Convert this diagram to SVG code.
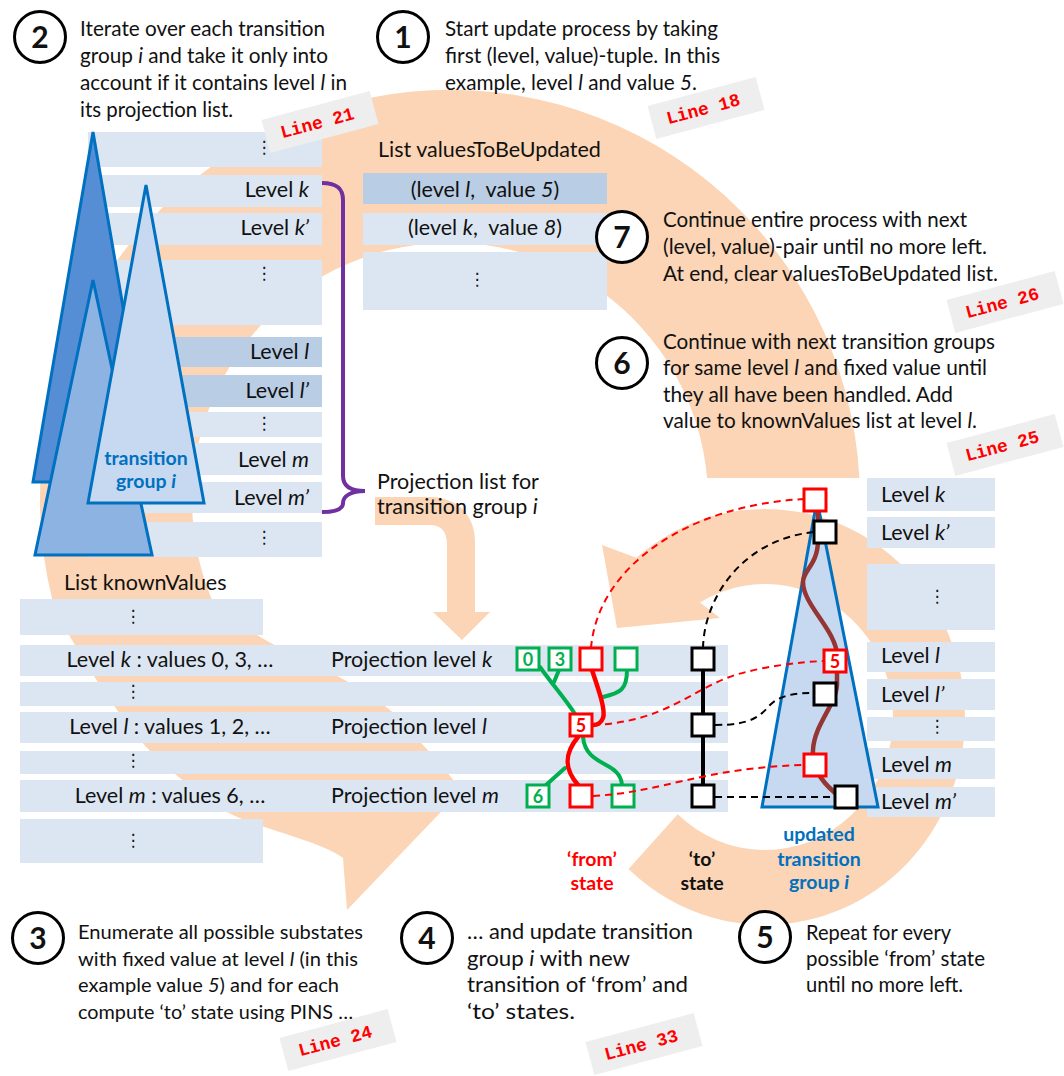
<svg xmlns="http://www.w3.org/2000/svg" width="1064" height="1076" viewBox="0 0 1064 1076">
<style>
  text { font-family: Lato, 'Liberation Sans', sans-serif; fill: #111; }
  .t { font-size: 21.5px; }
  .p { font-size: 20.5px; }
  .q { font-size: 19.5px; }
  .r { text-anchor: end; }
  .c { text-anchor: middle; }
  .i { font-style: italic; }
  .row { fill: #dce6f2; }
  .rowd { fill: #b9cde5; }
  .peach { fill: #fbd5b5; }
  .num circle { fill: #fff; stroke: #000; stroke-width: 3; }
  .num text { font-size: 30px; font-weight: bold; text-anchor: middle; }
  .tag rect { fill: #eeeeee; }
  .tag text { font-family: 'Liberation Mono', monospace; font-weight: bold; font-size: 18px; fill: #ff0000; text-anchor: middle; }
  .dots { font-family: 'DejaVu Sans', sans-serif; font-size: 17px; text-anchor: middle; }
  .blue { fill: #0070c0; font-weight: bold; font-size: 19.5px; text-anchor: middle; }
  .redb { fill: #ff0000; font-weight: bold; font-size: 19.5px; text-anchor: middle; }
  .blkb { font-weight: bold; font-size: 19.5px; text-anchor: middle; }
  .tri { stroke: #0070c0; stroke-width: 3; }
  .bx { fill: #fff; stroke-width: 3; }
  .g { stroke: #00b050; }
  .rd { stroke: #ff0000; }
  .bk { stroke: #000; }
  .bxt { font-weight: bold; font-size: 18px; text-anchor: middle; }
  .gl { fill: none; stroke: #00b050; stroke-width: 4; stroke-linecap: round; }
  .rl { fill: none; stroke: #ff0000; stroke-width: 4.5; stroke-linecap: round; }
  .dr { fill: none; stroke: #ff0000; stroke-width: 2; stroke-dasharray: 7 5; }
  .db { fill: none; stroke: #000; stroke-width: 2; stroke-dasharray: 7 5; }
</style>

<!-- flow arrows in the background -->
<g id="flow-arrows">
  <path class="peach" d="M859.4,478 A410,410 0 1 0 52.4,600 C56.7,613.3 64,625.8 72,640 C80,654.2 88.7,668.3 100,685 C111.3,701.7 126.7,724.5 140,740 C153.3,755.5 164.5,765.5 180,778 C195.5,790.5 205.8,801.7 233,815 C260.2,828.3 324,842.2 343,858 L347,910 L462,790 C454.2,780.8 435.8,759 423,745 C410.2,731 400.5,718.2 385,706 C369.5,693.8 350.5,683.3 330,672 C309.5,660.7 281.7,650 262,638 C242.3,626 222.5,613 212,600 A258,258 0 1 1 707.1,478 Z"/>
  <path class="peach" d="M628.6,869.1 A200,208 0 1 0 636.4,557.7 L602,545 L617,628 L720,618 L700,602.4 A128,133 0 1 1 677.7,814.3 Z"/>
  <path class="peach" d="M375,497 H430 C457,497 475,515 475,542 V612 H490 L462,640 L433,612 H447 V545 C447,531 441,525 430,525 H375 Z"/>
</g>

<!-- projection list of transition group i -->
<g id="projection-list">
  <rect class="row" x="88" y="132" width="234" height="35"/>
  <rect class="row" x="88" y="175" width="234" height="32"/>
  <rect class="row" x="88" y="213" width="234" height="32"/>
  <rect class="row" x="88" y="260" width="234" height="65"/>
  <rect class="rowd" x="88" y="337" width="234" height="30"/>
  <rect class="rowd" x="88" y="375" width="234" height="32"/>
  <rect class="row" x="88" y="412" width="234" height="25"/>
  <rect class="row" x="88" y="443" width="234" height="32"/>
  <rect class="row" x="88" y="482" width="234" height="31"/>
  <rect class="row" x="88" y="522" width="234" height="35"/>
  <text class="dots" x="264" y="153">⋮</text>
  <text class="t r" x="309" y="197">Level <tspan class="i">k</tspan></text>
  <text class="t r" x="309" y="235">Level <tspan class="i">k’</tspan></text>
  <text class="dots" x="264" y="279">⋮</text>
  <text class="t r" x="309" y="359">Level <tspan class="i">l</tspan></text>
  <text class="t r" x="309" y="398">Level <tspan class="i">l’</tspan></text>
  <text class="dots" x="264" y="429">⋮</text>
  <text class="t r" x="309" y="467">Level <tspan class="i">m</tspan></text>
  <text class="t r" x="309" y="505">Level <tspan class="i">m’</tspan></text>
  <text class="dots" x="264" y="543">⋮</text>
</g>

<!-- stacked transition groups -->
<g id="transition-groups">
  <polygon class="tri" fill="#558ed5" points="93,132 33,482 153,482"/>
  <polygon class="tri" fill="#8db3e2" points="93,280 35,555 152,555"/>
  <polygon class="tri" fill="#c6d9f1" points="146,185 88,503 204,503"/>
  <text class="blue" x="146" y="465">transition</text>
  <text class="blue" x="146" y="488">group <tspan class="i">i</tspan></text>
</g>

<g id="projection-brace">
  <path d="M322,183 C336,183 343,188 343,200 L343,476 C343,486 351,491 365,491 C351,491 343,496 343,503 C343,509 336,512 322,512" fill="none" stroke="#7030a0" stroke-width="4"/>
  <text class="t" x="377" y="489">Projection list for</text>
  <text class="t" x="377" y="514">transition group <tspan class="i">i</tspan></text>
</g>

<!-- list valuesToBeUpdated -->
<g id="values-to-be-updated">
  <text class="t" x="378" y="157">List valuesToBeUpdated</text>
  <rect class="rowd" x="363" y="173" width="244" height="31"/>
  <rect class="row" x="363" y="213" width="244" height="32"/>
  <rect class="row" x="363" y="252" width="244" height="58"/>
  <text class="t c" x="485" y="197">(level <tspan class="i">l</tspan>,&#160; value <tspan class="i">5</tspan>)</text>
  <text class="t c" x="485" y="235">(level <tspan class="i">k</tspan>,&#160; value <tspan class="i">8</tspan>)</text>
  <text class="dots" x="477" y="285">⋮</text>
</g>

<!-- list knownValues with projection levels -->
<g id="known-values">
  <text class="t" x="64" y="590">List knownValues</text>
  <rect class="row" x="20" y="599" width="243" height="36"/>
  <rect class="row" x="20" y="645" width="708" height="31"/>
  <rect class="row" x="20" y="682" width="708" height="24"/>
  <rect class="row" x="20" y="712" width="708" height="31"/>
  <rect class="row" x="20" y="751" width="708" height="23"/>
  <rect class="row" x="20" y="780" width="708" height="32"/>
  <rect class="row" x="20" y="819" width="243" height="44"/>
  <text class="dots" x="133" y="622">⋮</text>
  <text class="t c" x="170" y="667">Level <tspan class="i">k</tspan> : values 0, 3, …</text>
  <text class="dots" x="133" y="697">⋮</text>
  <text class="t c" x="170" y="734">Level <tspan class="i">l</tspan> : values 1, 2, …</text>
  <text class="dots" x="133" y="766">⋮</text>
  <text class="t c" x="170" y="803">Level <tspan class="i">m</tspan> : values 6, …</text>
  <text class="dots" x="133" y="846">⋮</text>
  <text class="t" x="331" y="667">Projection level <tspan class="i">k</tspan></text>
  <text class="t" x="331" y="734">Projection level <tspan class="i">l</tspan></text>
  <text class="t" x="331" y="803">Projection level <tspan class="i">m</tspan></text>
</g>

<!-- levels of the updated transition group -->
<g id="updated-levels">
  <rect class="row" x="867" y="478" width="128" height="33"/>
  <rect class="row" x="867" y="517" width="128" height="31"/>
  <rect class="row" x="867" y="564" width="128" height="66"/>
  <rect class="row" x="867" y="642" width="128" height="30"/>
  <rect class="row" x="867" y="679" width="128" height="31"/>
  <rect class="row" x="867" y="717" width="128" height="24"/>
  <rect class="row" x="867" y="748" width="128" height="31"/>
  <rect class="row" x="867" y="787" width="128" height="30"/>
  <text class="t" x="881" y="502">Level <tspan class="i">k</tspan></text>
  <text class="t" x="881" y="540">Level <tspan class="i">k’</tspan></text>
  <text class="dots" x="937" y="602">⋮</text>
  <text class="t" x="881" y="663">Level <tspan class="i">l</tspan></text>
  <text class="t" x="881" y="702">Level <tspan class="i">l’</tspan></text>
  <text class="dots" x="937" y="732">⋮</text>
  <text class="t" x="881" y="772">Level <tspan class="i">m</tspan></text>
  <text class="t" x="881" y="809">Level <tspan class="i">m’</tspan></text>
</g>

<g id="updated-group">
  <polygon class="tri" fill="#c6d9f1" points="817,500 762,807 878,807"/>
  <text class="blue" x="819" y="841">updated</text>
  <text class="blue" x="819" y="866">transition</text>
  <text class="blue" x="819" y="889">group <tspan class="i">i</tspan></text>
</g>

<!-- connectors -->
<g id="connectors">
  <path class="gl" d="M540,667 C552,684 566,700 575,714"/>
  <path class="gl" d="M559,670 L554,682"/>
  <path class="gl" d="M627,670 C627,690 620,693 603,697"/>
  <path class="gl" d="M583,737 C586,768 620,760 622,785"/>
  <path class="gl" d="M565,768 L546,785"/>
  <path class="rl" d="M592,670 C598,688 606,710 603,718 C601,723 597,725 593,725"/>
  <path class="rl" d="M578,737 C563,755 565,770 578,785"/>
  <path d="M703,670 V785" stroke="#000" stroke-width="4"/>
  <path d="M818,512 V540 C818,565 803,570 803,582 C803,605 836,630 837,655 L837,685 C836,705 814,725 813,750 C812,772 826,786 840,797" fill="none" stroke="#943634" stroke-width="4.5"/>
</g>

<g id="states">
  <rect class="bx g" x="517" y="648" width="22" height="22"/>
  <text class="bxt" style="fill:#00b050" x="528" y="666">0</text>
  <rect class="bx g" x="549" y="648" width="22" height="22"/>
  <text class="bxt" style="fill:#00b050" x="560" y="666">3</text>
  <rect class="bx rd" x="580" y="648" width="22" height="22"/>
  <rect class="bx g" x="615" y="648" width="22" height="22"/>
  <rect class="bx bk" x="692" y="648" width="22" height="22"/>
  <rect class="bx rd" x="570" y="714" width="22" height="22"/>
  <text class="bxt" style="fill:#ff0000" x="581" y="732">5</text>
  <rect class="bx bk" x="692" y="714" width="22" height="22"/>
  <rect class="bx g" x="527" y="785" width="22" height="22"/>
  <text class="bxt" style="fill:#00b050" x="538" y="803">6</text>
  <rect class="bx rd" x="570" y="785" width="22" height="22"/>
  <rect class="bx g" x="612" y="785" width="22" height="22"/>
  <rect class="bx bk" x="692" y="785" width="22" height="22"/>
</g>

<g id="transition-links">
  <path class="dr" d="M591,648 C598,565 690,505 804,499"/>
  <path class="db" d="M703,648 C704,600 740,540 814,532"/>
  <path class="dr" d="M593,725 C665,722 690,690 735,675 C765,666 800,662 824,661"/>
  <path class="db" d="M715,725 C752,725 760,716 770,705 C780,695 795,693 814,693"/>
  <path class="dr" d="M593,796 C665,792 700,768 804,765"/>
  <path class="db" d="M715,797 H835"/>
</g>

<g id="updated-states">
  <rect class="bx rd" x="804" y="489" width="22" height="22"/>
  <rect class="bx bk" x="814" y="521" width="22" height="22"/>
  <rect class="bx rd" x="824" y="650" width="22" height="22"/>
  <text class="bxt" style="fill:#ff0000" x="835" y="668">5</text>
  <rect class="bx bk" x="814" y="683" width="22" height="22"/>
  <rect class="bx rd" x="804" y="754" width="22" height="22"/>
  <rect class="bx bk" x="835" y="786" width="22" height="22"/>
</g>

<g id="state-labels">
  <text class="redb" x="592" y="866">‘from’</text>
  <text class="redb" x="592" y="890">state</text>
  <text class="blkb" x="702" y="866">‘to’</text>
  <text class="blkb" x="702" y="890">state</text>
</g>

<!-- source line tags -->
<g id="line-tags" class="tag">
  <g transform="translate(320,122) rotate(-15)"><rect x="-56" y="-17" width="112" height="34"/><text x="-3" y="6">Line 21</text></g>
  <g transform="translate(706,108) rotate(-15)"><rect x="-56" y="-17" width="112" height="34"/><text x="-3" y="6">Line 18</text></g>
  <g transform="translate(1005,302) rotate(-15)"><rect x="-56" y="-17" width="112" height="34"/><text x="-3" y="6">Line 26</text></g>
  <g transform="translate(1005,445) rotate(-15)"><rect x="-56" y="-17" width="112" height="34"/><text x="-3" y="6">Line 25</text></g>
  <g transform="translate(338,1040) rotate(-15)"><rect x="-56" y="-17" width="112" height="34"/><text x="-3" y="6">Line 24</text></g>
  <g transform="translate(644,1044) rotate(-15)"><rect x="-56" y="-17" width="112" height="34"/><text x="-3" y="6">Line 33</text></g>
</g>

<!-- numbered steps -->
<g id="step-1">
  <g class="num"><circle cx="403" cy="37" r="25.5"/><text x="403" y="48">1</text></g>
  <text class="p" x="445" y="36" textLength="273" lengthAdjust="spacingAndGlyphs">Start update process by taking</text>
  <text class="p" x="445" y="63" textLength="275" lengthAdjust="spacingAndGlyphs">first (level, value)-tuple. In this</text>
  <text class="p" x="445" y="90" textLength="252" lengthAdjust="spacingAndGlyphs">example, level <tspan class="i">l</tspan> and value <tspan class="i">5</tspan>.</text>
</g>
<g id="step-2">
  <g class="num"><circle cx="40" cy="37" r="25.5"/><text x="40" y="48">2</text></g>
  <text class="p" x="80" y="36" textLength="245" lengthAdjust="spacingAndGlyphs">Iterate over each transition</text>
  <text class="p" x="80" y="63" textLength="248" lengthAdjust="spacingAndGlyphs">group <tspan class="i">i</tspan> and take it only into</text>
  <text class="p" x="80" y="90" textLength="267" lengthAdjust="spacingAndGlyphs">account if it contains level <tspan class="i">l</tspan> in</text>
  <text class="p" x="80" y="117" textLength="153" lengthAdjust="spacingAndGlyphs">its projection list.</text>
</g>
<g id="step-3">
  <g class="num"><circle cx="38" cy="938" r="25.5"/><text x="38" y="949">3</text></g>
  <text class="q" x="78" y="939" textLength="285" lengthAdjust="spacingAndGlyphs">Enumerate all possible substates</text>
  <text class="q" x="78" y="965.5" textLength="280" lengthAdjust="spacingAndGlyphs">with fixed value at level <tspan class="i">l</tspan> (in this</text>
  <text class="q" x="78" y="992" textLength="261" lengthAdjust="spacingAndGlyphs">example value <tspan class="i">5</tspan>) and for each</text>
  <text class="q" x="78" y="1018.5" textLength="275" lengthAdjust="spacingAndGlyphs">compute ‘to’ state using PINS …</text>
</g>
<g id="step-4">
  <g class="num"><circle cx="427" cy="938" r="25.5"/><text x="427" y="949">4</text></g>
  <text class="p" x="467" y="939" textLength="226" lengthAdjust="spacingAndGlyphs">… and update transition</text>
  <text class="p" x="467" y="965.5" textLength="163" lengthAdjust="spacingAndGlyphs">group <tspan class="i">i</tspan> with new</text>
  <text class="p" x="467" y="992" textLength="221" lengthAdjust="spacingAndGlyphs">transition of ‘from’ and</text>
  <text class="p" x="467" y="1018.5" textLength="108" lengthAdjust="spacingAndGlyphs">‘to’ states.</text>
</g>
<g id="step-5">
  <g class="num"><circle cx="765" cy="937" r="25.5"/><text x="765" y="948">5</text></g>
  <text class="p" x="806" y="940" textLength="145" lengthAdjust="spacingAndGlyphs">Repeat for every</text>
  <text class="p" x="806" y="966" textLength="179" lengthAdjust="spacingAndGlyphs">possible ‘from’ state</text>
  <text class="p" x="806" y="992" textLength="157" lengthAdjust="spacingAndGlyphs">until no more left.</text>
</g>
<g id="step-6">
  <g class="num"><circle cx="622" cy="363" r="25.5"/><text x="622" y="374">6</text></g>
  <text class="p" x="663" y="349" textLength="332" lengthAdjust="spacingAndGlyphs">Continue with next transition groups</text>
  <text class="p" x="663" y="375" textLength="324" lengthAdjust="spacingAndGlyphs">for same level <tspan class="i">l</tspan> and fixed value until</text>
  <text class="p" x="663" y="402" textLength="290" lengthAdjust="spacingAndGlyphs">they all have been handled. Add</text>
  <text class="p" x="663" y="428" textLength="314" lengthAdjust="spacingAndGlyphs">value to knownValues list at level <tspan class="i">l</tspan>.</text>
</g>
<g id="step-7">
  <g class="num"><circle cx="622" cy="237" r="25.5"/><text x="622" y="248">7</text></g>
  <text class="p" x="663" y="227" textLength="304" lengthAdjust="spacingAndGlyphs">Continue entire process with next</text>
  <text class="p" x="663" y="254" textLength="324" lengthAdjust="spacingAndGlyphs">(level, value)-pair until no more left.</text>
  <text class="p" x="663" y="281" textLength="335" lengthAdjust="spacingAndGlyphs">At end, clear valuesToBeUpdated list.</text>
</g>
</svg>
